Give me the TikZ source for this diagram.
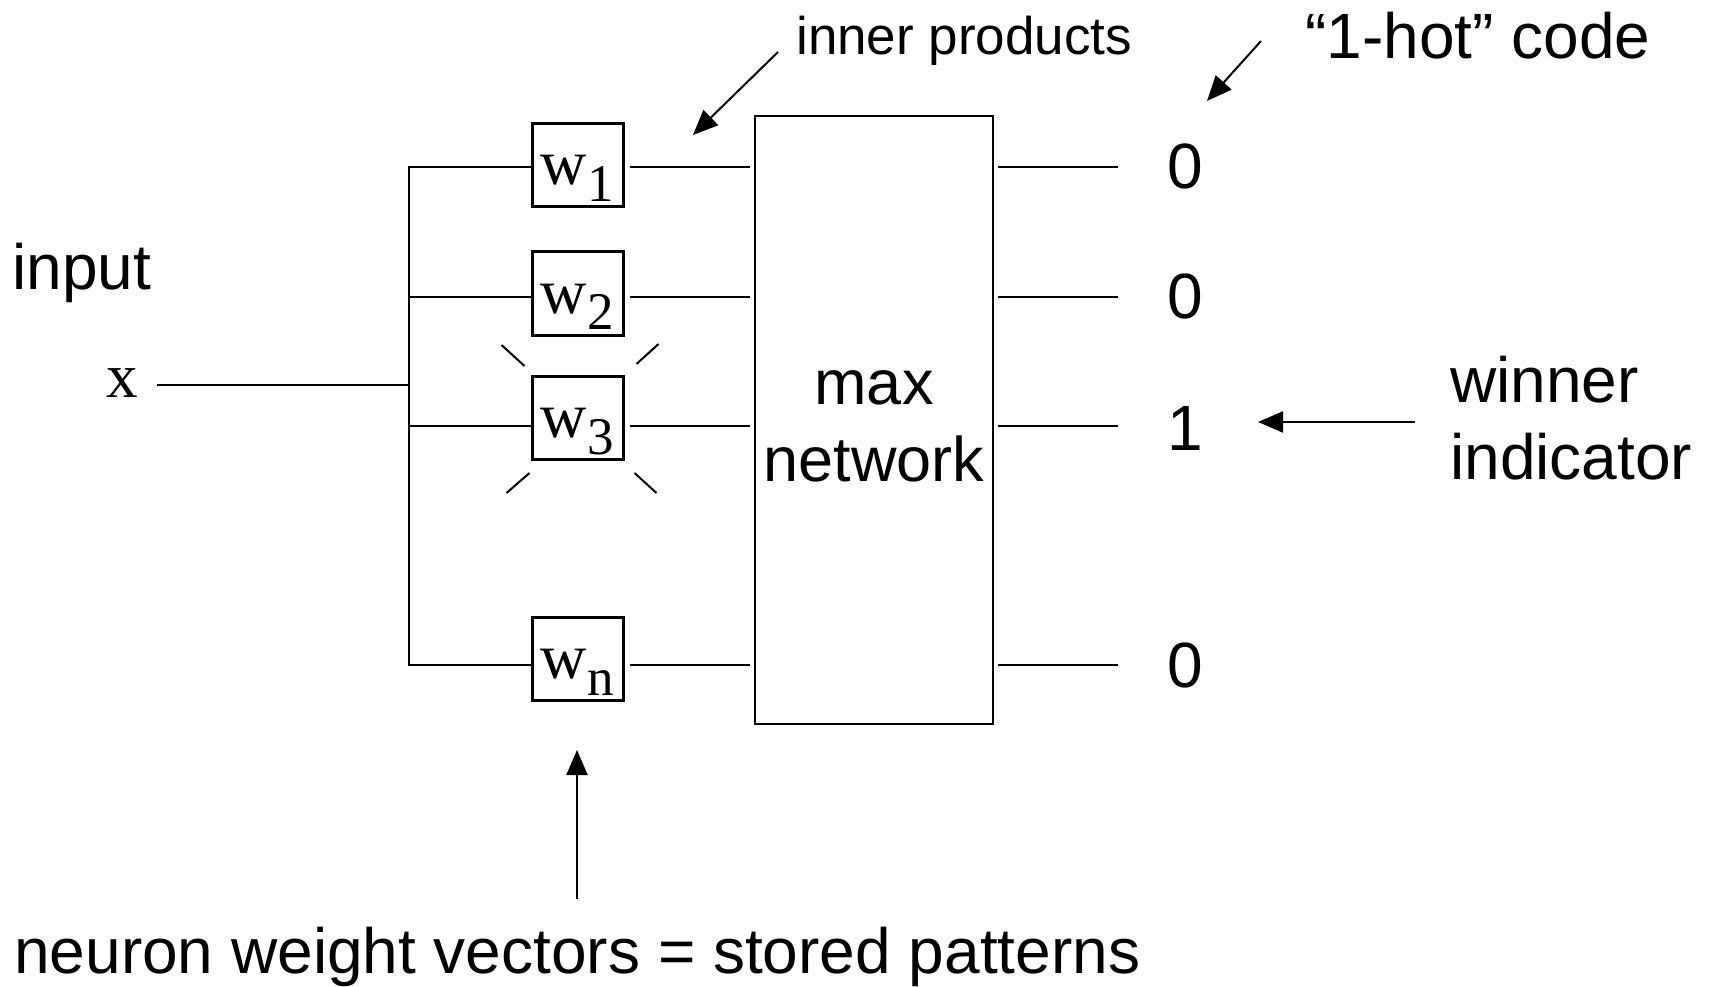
\documentclass[tikz,border=0pt]{standalone}
\usepackage{fontspec}
\setmainfont{Liberation Sans}
\newfontfamily\seriffont{Liberation Serif}
\usetikzlibrary{arrows.meta}
\newcommand{\wsub}[1]{w\kern1pt\raisebox{-17pt}{\fontsize{53}{53}\selectfont #1}}
\begin{document}
\begin{tikzpicture}[x=1pt,y=-1pt, line width=2.5pt,
  wbox/.style={draw, line width=3pt, minimum width=91pt, minimum height=83pt,
    inner sep=0pt, text height=43pt, text depth=4pt,
    font=\seriffont\fontsize{64}{64}\selectfont},
  big/.style={font=\fontsize{64}{77}\selectfont, inner sep=0pt},
  arr/.style={line width=2pt, -{Triangle[length=25pt,width=21pt]}},
  spark/.style={line width=2pt},
]
\useasboundingbox (0,0) rectangle (1709,987);

% texts
\node[big, anchor=base west] (input) at (11,290) {input};
\node[anchor=base, inner sep=0pt, font=\seriffont\fontsize{63}{63}\selectfont] (x) at (122,397) {x};
\node[anchor=base west, inner sep=0pt, font=\fontsize{53}{53}\selectfont] (ip) at (795,55) {inner products};
\node[big, anchor=base west] (hot) at (1304,59) {“1-hot” code};
\node[big, anchor=base west] (nw) at (13,973) {neuron weight vectors = stored patterns};
\node[big, anchor=west, align=left] (win) at (1449,418) {winner\\indicator};

% weight boxes
\node[wbox] (w1) at (577.5,165.5) {\wsub{1}};
\node[wbox] (w2) at (577.5,293.5) {\wsub{2}};
\node[wbox] (w3) at (577.5,418) {\wsub{3}};
\node[wbox] (wn) at (577.5,659) {\wsub{n}};

% max network
\node[draw, line width=2.5pt, minimum width=238pt, minimum height=608pt, align=center,
  font=\fontsize{63}{77}\selectfont] (max) at (874,420) {\vphantom{k}max\\network};

% outputs
\node[big] (o1) at (1185,166) {0};
\node[big] (o2) at (1185,296) {0};
\node[big] (o3) at (1185,428) {1};
\node[big] (o4) at (1185,665) {0};

% bus
\coordinate (l1) at (409,167);
\coordinate (l2) at (409,297);
\coordinate (l3) at (409,426);
\coordinate (ln) at (409,665);
\coordinate (xin) at (409,385);

\draw[line join=miter] (w1.west |- l1) -- (l1) -- (ln) -- (wn.west |- ln);
\draw (l2) -- (w2.west |- l2);
\draw (l3) -- (w3.west |- l3);
\draw[shorten <=18pt] (x.east |- xin) -- (xin);

% inner product lines
\draw[shorten <=5pt, shorten >=4pt] (w1.east |- l1) -- (max.west |- l1);
\draw[shorten <=5pt, shorten >=4pt] (w2.east |- l2) -- (max.west |- l2);
\draw[shorten <=5pt, shorten >=4pt] (w3.east |- l3) -- (max.west |- l3);
\draw[shorten <=5pt, shorten >=4pt] (wn.east |- ln) -- (max.west |- ln);

% output lines
\draw[shorten <=4pt, shorten >=48pt] (max.east |- l1) -- (o1.west |- l1);
\draw[shorten <=4pt, shorten >=48pt] (max.east |- l2) -- (o2.west |- l2);
\draw[shorten <=4pt, shorten >=48pt] (max.east |- l3) -- (o3.west |- l3);
\draw[shorten <=4pt, shorten >=48pt] (max.east |- ln) -- (o4.west |- ln);

% sparkles around w3
\draw[spark] ([shift={(-29,-30)}]w3.north west) -- ([shift={(-6,-9)}]w3.north west);
\draw[spark] ([shift={(34,-31)}]w3.north east) -- ([shift={(12,-11)}]w3.north east);
\draw[spark] ([shift={(-1,12)}]w3.south west) -- ([shift={(-24,32)}]w3.south west);
\draw[spark] ([shift={(10,12)}]w3.south east) -- ([shift={(32,32)}]w3.south east);

% arrows
\coordinate (iptail) at (778,52);
\coordinate (iphead) at (693,135);
\draw[arr] (iptail) -- (iphead);
\coordinate (hottail) at (1261,41);
\coordinate (hothead) at (1207,101);
\draw[arr] (hottail) -- (hothead);
\coordinate (wintail) at (1415,422);
\coordinate (winhead) at (1258,422);
\draw[arr] (wintail) -- (winhead);
\coordinate (nwtail) at (577,899);
\coordinate (nwhead) at (577,750);
\draw[arr] (nwtail) -- (nwhead);
\end{tikzpicture}
\end{document}
